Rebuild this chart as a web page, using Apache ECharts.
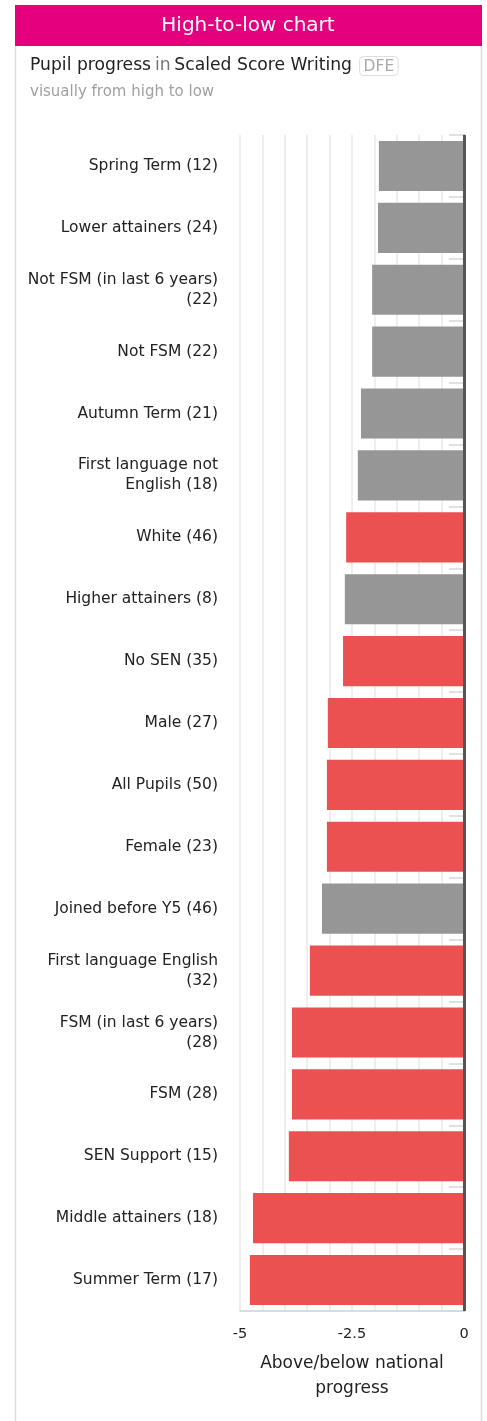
<!DOCTYPE html>
<html>
<head>
<meta charset="utf-8">
<style>
html,body{margin:0;padding:0;background:#fff;}
#chart{width:487px;height:1421px;}
</style>
<script src="https://cdn.jsdelivr.net/npm/echarts@6/dist/echarts.min.js"></script>
</head>
<body>
<div id="chart"></div>
<script>
const categories = [
  'Spring Term (12)', 'Lower attainers (24)', 'Not FSM (in last 6 years)\n(22)', 'Not FSM (22)',
  'Autumn Term (21)', 'First language not\nEnglish (18)', 'White (46)', 'Higher attainers (8)',
  'No SEN (35)', 'Male (27)', 'All Pupils (50)', 'Female (23)', 'Joined before Y5 (46)',
  'First language English\n(32)', 'FSM (in last 6 years)\n(28)', 'FSM (28)', 'SEN Support (15)',
  'Middle attainers (18)', 'Summer Term (17)'
];
const values = [-1.90, -1.92, -2.05, -2.05, -2.30, -2.37, -2.63, -2.66, -2.70, -3.04, -3.06, -3.06, -3.17, -3.44, -3.84, -3.84, -3.91, -4.71, -4.78];
const groups = ['grey','grey','grey','grey','grey','grey','red','grey','red','red','red','red','grey','red','red','red','red','red','red'];
const xTickLabels = [-5, -2.5, 0];
const titleText = 'High-to-low chart';
const axisName = 'Above/below national\nprogress';

const colorMap = { grey: '#969696', red: '#EC5152' };
const FONT = '"DejaVu Sans"';

const chart = echarts.init(document.getElementById('chart'), null, { renderer: 'canvas' });
chart.setOption({
  animation: false,
  textStyle: { fontFamily: FONT },
  grid: { left: 240, right: 23, top: 135, bottom: 110, containLabel: false },
  xAxis: {
    type: 'value', min: -5, max: 0, interval: 0.5,
    axisLine: { show: true, lineStyle: { color: '#cfcfcf', width: 1.5 } },
    axisTick: { show: false },
    splitLine: { show: true, lineStyle: { color: '#e8e8e8', width: 1.5 } },
    axisLabel: {
      margin: 16, color: '#222', fontSize: 14.5, fontFamily: FONT,
      formatter: v => xTickLabels.some(t => Math.abs(t - v) < 1e-9) ? String(v) : ''
    },
    name: axisName, nameLocation: 'middle', nameGap: 40,
    nameTextStyle: { color: '#222', fontSize: 17, lineHeight: 25, fontFamily: FONT }
  },
  yAxis: {
    type: 'category', data: categories, inverse: true,
    axisLine: { show: true, lineStyle: { color: '#a8a8a8', width: 2 } },
    axisTick: { show: true, length: 15, lineStyle: { color: '#d8d8d8', width: 1.5 } },
    axisLabel: { margin: 22, color: '#222', fontSize: 15.5, lineHeight: 20, fontFamily: FONT, align: 'right' },
    splitLine: { show: false }
  },
  series: [{
    type: 'bar',
    data: values.map((v, i) => ({ value: v, itemStyle: { color: colorMap[groups[i]] } })),
    barCategoryGap: '19%',
    markLine: {
      silent: true, symbol: 'none', label: { show: false },
      lineStyle: { color: '#555', width: 3, type: 'solid' },
      data: [{ xAxis: 0 }]
    }
  }],
  graphic: [
    { type: 'rect', shape: { x: 15, y: 5, width: 467, height: 41 }, style: { fill: '#E5007E' } },
    { type: 'text', x: 248, y: 26, style: { text: titleText, fill: '#fff', fontSize: 20, fontFamily: FONT, textAlign: 'center', textVerticalAlign: 'middle' } },
    { type: 'line', shape: { x1: 15.5, y1: 46, x2: 15.5, y2: 1421 }, style: { stroke: '#dcdcdc', lineWidth: 1.5 } },
    { type: 'line', shape: { x1: 481.5, y1: 46, x2: 481.5, y2: 1421 }, style: { stroke: '#dcdcdc', lineWidth: 1.5 } },
    { type: 'text', x: 30, y: 66, style: {
        text: '{d|Pupil progress} {g|in} {d|Scaled Score Writing}  {b|DFE}',
        textVerticalAlign: 'middle', fontFamily: FONT,
        rich: {
          d: { fill: '#222', fontSize: 17.2, fontFamily: FONT },
          g: { fill: '#777', fontSize: 17.2, fontFamily: FONT },
          b: { fill: '#aaa', fontSize: 15.5, fontFamily: FONT, borderColor: '#ddd', borderWidth: 1, borderRadius: 4, padding: [2, 4, 1, 4] }
        }
    } },
    { type: 'text', x: 30, y: 92, style: { text: 'visually from high to low', fill: '#a0a0a0', fontSize: 15, fontFamily: FONT, textVerticalAlign: 'middle' } }
  ]
});
</script>
</body>
</html>
